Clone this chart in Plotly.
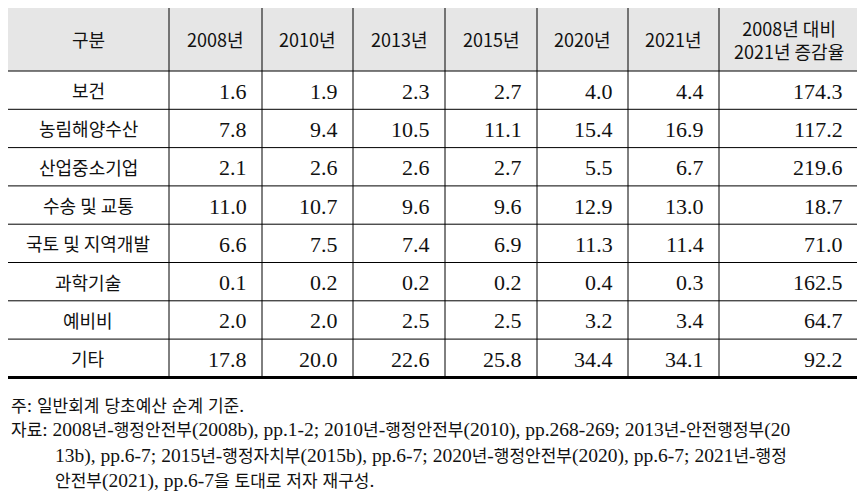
import re
import plotly.graph_objects as go

# 표 데이터
categories = ["보건", "농림해양수산", "산업중소기업", "수송 및 교통", "국토 및 지역개발",
              "과학기술", "예비비", "기타"]
years = ["2008년", "2010년", "2013년", "2015년", "2020년", "2021년"]
v2008 = [1.6, 7.8, 2.1, 11.0, 6.6, 0.1, 2.0, 17.8]
v2010 = [1.9, 9.4, 2.6, 10.7, 7.5, 0.2, 2.0, 20.0]
v2013 = [2.3, 10.5, 2.6, 9.6, 7.4, 0.2, 2.5, 22.6]
v2015 = [2.7, 11.1, 2.7, 9.6, 6.9, 0.2, 2.5, 25.8]
v2020 = [4.0, 15.4, 5.5, 12.9, 11.3, 0.4, 3.2, 34.4]
v2021 = [4.4, 16.9, 6.7, 13.0, 11.4, 0.3, 3.4, 34.1]
rate = [174.3, 117.2, 219.6, 18.7, 71.0, 162.5, 64.7, 92.2]
first_header = "구분"
last_header = "2008년 대비<br>2021년 증감율"

note = "주: 일반회계 당초예산 순계 기준."
source_lines = [
    "자료: 2008년-행정안전부(2008b), pp.1-2; 2010년-행정안전부(2010), pp.268-269; 2013년-안전행정부(20",
    "13b), pp.6-7; 2015년-행정자치부(2015b), pp.6-7; 2020년-행정안전부(2020), pp.6-7; 2021년-행정",
    "안전부(2021), pp.6-7을 토대로 저자 재구성.",
]

# 레이아웃 (페이지 픽셀 좌표, 페이지 기본 여백 8px 보정)
W, H = 865, 497
OFF = 8
col_edges = [7, 169, 262, 353, 445, 537, 628, 719, 858]
top, head_bot, row_h = 6, 71, 38.3
n_rows = len(categories)
bottom = head_bot + row_h * n_rows

SERIF = "Liberation Serif, Noto Sans CJK KR"
SANS = "Noto Sans CJK KR, Noto Sans"


def hangul_small(s, size=17):
    return re.sub(r"([가-힣]+)", r'<span style="font-size:%spx">\1</span>' % size, s)


fig = go.Figure()
shapes = []
ann = []

# 헤더 배경
shapes.append(dict(type="rect", x0=col_edges[0], x1=col_edges[-1], y0=top, y1=head_bot,
                   fillcolor="#e6e6e6", line_width=0, layer="below"))
# 가로선
for i in range(0, n_rows):
    y = head_bot + row_h * i
    shapes.append(dict(type="line", x0=col_edges[0], x1=col_edges[-1], y0=y, y1=y,
                       line=dict(color="black", width=1)))
shapes.append(dict(type="line", x0=col_edges[0], x1=col_edges[-1], y0=top, y1=top,
                   line=dict(color="black", width=3)))
shapes.append(dict(type="line", x0=col_edges[0], x1=col_edges[-1], y0=bottom, y1=bottom,
                   line=dict(color="black", width=3)))
# 세로선
for x in col_edges[1:-1]:
    shapes.append(dict(type="line", x0=x, x1=x, y0=top, y1=bottom,
                       line=dict(color="black", width=1)))

# 헤더 텍스트
headers = [first_header] + years + [last_header]
for j, h in enumerate(headers):
    cx = (col_edges[j] + col_edges[j + 1]) / 2
    ann.append(dict(x=cx, y=(top + head_bot) / 2 + 0.5, text=h, showarrow=False,
                    xanchor="center", yanchor="middle",
                    font=dict(family=SANS, size=18, color="#111")))

# 본문
columns = [v2008, v2010, v2013, v2015, v2020, v2021, rate]
for i, cat in enumerate(categories):
    cy = head_bot + row_h * (i + 0.5)
    ann.append(dict(x=(col_edges[0] + col_edges[1]) / 2, y=cy, text=cat, showarrow=False,
                    xanchor="center", yanchor="middle",
                    font=dict(family=SANS, size=18, color="#111")))
    for j, col in enumerate(columns):
        ann.append(dict(x=col_edges[j + 2] - 13, y=cy + 1, text=f"{col[i]:.1f}", showarrow=False,
                        xanchor="right", yanchor="middle",
                        font=dict(family=SERIF, size=22, color="#111")))

# 주석/자료
ann.append(dict(x=OFF + 0.5, y=405, text=hangul_small(note), showarrow=False, xanchor="left",
                yanchor="middle", font=dict(family=SERIF, size=19.5, color="#111")))
for k, line in enumerate(source_lines):
    ann.append(dict(x=OFF + 0.5 if k == 0 else 53, y=430 + 25.5 * k, text=hangul_small(line),
                    showarrow=False, xanchor="left", yanchor="middle",
                    font=dict(family=SERIF, size=19.5, color="#111")))

fig.update_layout(
    width=W, height=H,
    margin=dict(l=0, r=0, t=0, b=0),
    paper_bgcolor="white", plot_bgcolor="white",
    xaxis=dict(range=[OFF, W + OFF], visible=False, fixedrange=True),
    yaxis=dict(range=[H + OFF, OFF], visible=False, fixedrange=True),
    shapes=shapes, annotations=ann, showlegend=False,
)

fig.write_html("out.html")
